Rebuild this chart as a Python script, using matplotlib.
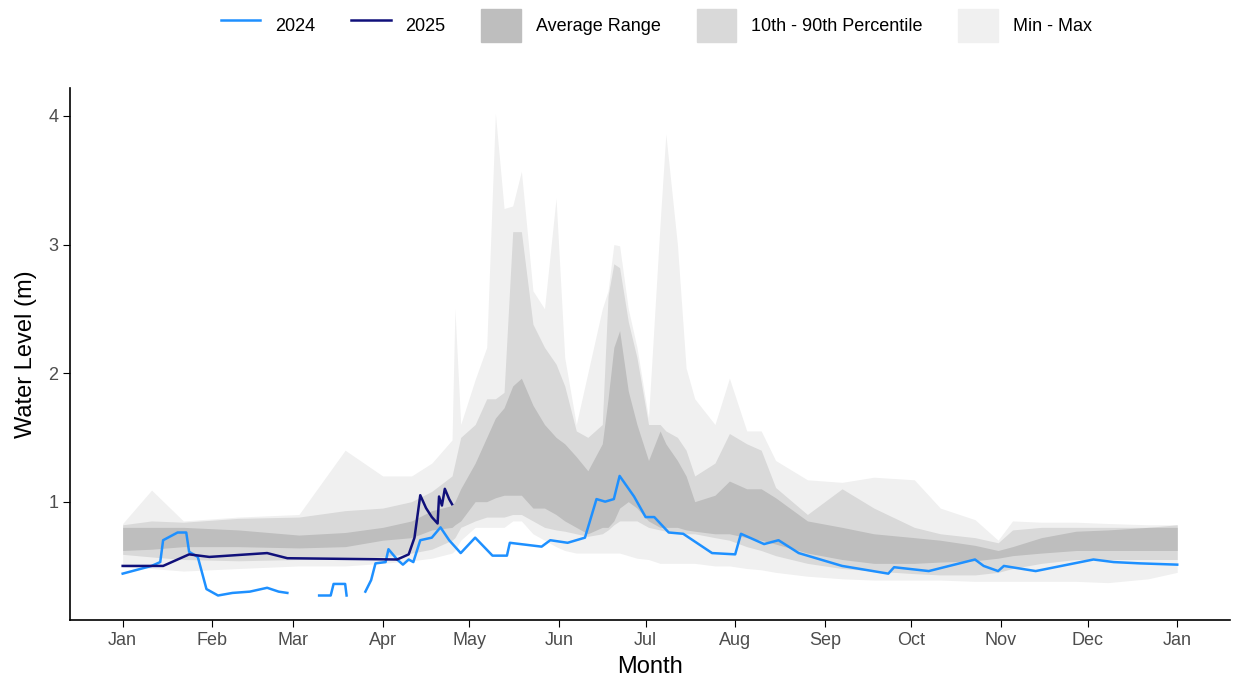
import numpy as np
import matplotlib
matplotlib.use("Agg")
import matplotlib.pyplot as plt
from matplotlib.lines import Line2D
from matplotlib.patches import Patch

plt.rcParams['font.family'] = ['Liberation Sans', 'DejaVu Sans']

# day-of-year grid for the historical bands
band_days = [0, 10, 21, 40, 61, 77, 90, 100, 107, 114, 115, 117, 122, 126, 129, 132, 135, 138,
             142, 146, 150, 153, 157, 161, 166, 168, 170, 172, 175, 178, 182, 186, 188, 192,
             195, 198, 205, 210, 216, 221, 226, 237, 249, 260, 274, 283, 295, 303, 308, 318,
             330, 341, 355, 365]
band_min = [0.49, 0.48, 0.46, 0.48, 0.5, 0.5, 0.52, 0.54, 0.56, 0.6, 0.62, 0.7, 0.8, 0.8, 0.8,
            0.8, 0.85, 0.85, 0.75, 0.7, 0.65, 0.62, 0.6, 0.6, 0.6, 0.6, 0.6, 0.6, 0.58, 0.56,
            0.55, 0.52, 0.52, 0.52, 0.52, 0.52, 0.5, 0.5, 0.48, 0.47, 0.45, 0.42, 0.4, 0.39,
            0.39, 0.39, 0.38, 0.38, 0.38, 0.38, 0.38, 0.37, 0.4, 0.45]
band_p10 = [0.59, 0.57, 0.55, 0.54, 0.55, 0.55, 0.57, 0.6, 0.63, 0.7, 0.72, 0.8, 0.85, 0.88,
            0.88, 0.88, 0.9, 0.9, 0.85, 0.8, 0.78, 0.77, 0.75, 0.73, 0.75, 0.78, 0.82, 0.85,
            0.85, 0.85, 0.8, 0.78, 0.77, 0.76, 0.75, 0.75, 0.72, 0.7, 0.65, 0.62, 0.58, 0.52,
            0.48, 0.46, 0.44, 0.43, 0.43, 0.45, 0.48, 0.52, 0.55, 0.55, 0.55, 0.55]
avg_lo = [0.62, 0.63, 0.65, 0.65, 0.64, 0.65, 0.7, 0.72, 0.78, 0.8, 0.82, 0.85, 1.0, 1.0, 1.03,
          1.05, 1.05, 1.05, 0.95, 0.95, 0.9, 0.85, 0.8, 0.75, 0.8, 0.8, 0.85, 0.95, 1.0, 0.95,
          0.85, 0.8, 0.8, 0.8, 0.78, 0.77, 0.75, 0.75, 0.72, 0.7, 0.67, 0.6, 0.55, 0.52, 0.52,
          0.53, 0.54, 0.56, 0.58, 0.6, 0.62, 0.62, 0.62, 0.62]
avg_hi = [0.8, 0.8, 0.8, 0.78, 0.74, 0.76, 0.8, 0.85, 0.93, 0.97, 1.0, 1.1, 1.3, 1.5, 1.65,
          1.73, 1.9, 1.96, 1.75, 1.6, 1.5, 1.45, 1.35, 1.24, 1.45, 1.8, 2.2, 2.33, 1.86, 1.6,
          1.32, 1.55, 1.45, 1.32, 1.2, 1.0, 1.05, 1.16, 1.1, 1.1, 1.03, 0.85, 0.8, 0.75, 0.72,
          0.7, 0.66, 0.62, 0.65, 0.72, 0.77, 0.78, 0.8, 0.8]
band_p90 = [0.82, 0.85, 0.84, 0.87, 0.88, 0.93, 0.95, 1.0, 1.08, 1.2, 1.3, 1.5, 1.6, 1.8, 1.8,
            1.85, 3.1, 3.1, 2.38, 2.2, 2.07, 1.9, 1.55, 1.5, 1.6, 2.6, 2.85, 2.82, 2.4, 2.12,
            1.6, 1.6, 1.55, 1.5, 1.4, 1.2, 1.3, 1.53, 1.45, 1.4, 1.11, 0.9, 1.1, 0.95, 0.8,
            0.75, 0.72, 0.68, 0.78, 0.8, 0.8, 0.8, 0.8, 0.82]
band_max = [0.83, 1.09, 0.85, 0.88, 0.9, 1.4, 1.2, 1.2, 1.3, 1.48, 2.5, 1.6, 1.95, 2.2, 4.02,
            3.28, 3.3, 3.57, 2.64, 2.5, 3.36, 2.12, 1.6, 2.0, 2.5, 2.64, 3.0, 2.99, 2.5, 2.2,
            1.65, 3.16, 3.86, 3.0, 2.04, 1.8, 1.6, 1.96, 1.55, 1.55, 1.32, 1.17, 1.15, 1.19,
            1.17, 0.95, 0.86, 0.7, 0.85, 0.84, 0.84, 0.83, 0.82, 0.82]

nan = np.nan
days_2024 = [0, 5, 10, 13, 14, 19, 22, 23, 26, 29, 33, 38, 44, 50, 54, 57, 58,
             68, 72, 73, 77, 77.5, 78,
             84, 86, 87.5, 91, 92, 95, 97, 99, 100.6, 103, 107, 110, 113, 117, 122, 128, 133,
             134, 145, 148, 154, 160, 164, 167, 170, 172, 177, 181, 184, 189, 194, 204, 212,
             214, 222, 227, 234, 240, 249, 265, 267, 279, 295, 298, 303, 305, 316, 336, 343,
             352, 365]
level_2024 = [0.44, 0.47, 0.5, 0.53, 0.7, 0.76, 0.76, 0.61, 0.57, 0.32, 0.27, 0.29, 0.3, 0.33,
              0.3, 0.29, nan,
              0.27, 0.27, 0.36, 0.36, 0.27, nan,
              0.3, 0.39, 0.52, 0.53, 0.63, 0.55, 0.51, 0.55, 0.53, 0.7, 0.72, 0.8, 0.7, 0.6,
              0.72, 0.58, 0.58, 0.68, 0.65, 0.7, 0.68, 0.72, 1.02, 1.0, 1.02, 1.2, 1.04, 0.88,
              0.88, 0.76, 0.75, 0.6, 0.59, 0.75, 0.67, 0.7, 0.6, 0.56, 0.5, 0.44, 0.49, 0.46,
              0.55, 0.5, 0.46, 0.5, 0.46, 0.55, 0.53, 0.52, 0.51]
days_2025 = [0, 14, 23, 30, 50, 57, 95, 99, 101, 103, 105, 107, 109, 109.5, 110.5, 111.5, 113,
             114]
level_2025 = [0.5, 0.5, 0.59, 0.57, 0.6, 0.56, 0.55, 0.59, 0.72, 1.05, 0.95, 0.88, 0.83, 1.04,
              0.97, 1.1, 1.02, 0.98]

month_days = [0, 31, 59, 90, 120, 151, 181, 212, 243, 273, 304, 334, 365]
month_labels = ['Jan', 'Feb', 'Mar', 'Apr', 'May', 'Jun', 'Jul', 'Aug', 'Sep', 'Oct',
                'Nov', 'Dec', 'Jan']

c_minmax, c_pct, c_avg = '#f0f0f0', '#d9d9d9', '#bebebe'
c24, c25 = '#1E90FF', '#10107a'

fig = plt.figure(figsize=(12.38, 6.85), dpi=100)
ax = fig.add_axes([0.0565, 0.095, 0.937, 0.777])

ax.fill_between(band_days, band_min, band_max, color=c_minmax, lw=0)
ax.fill_between(band_days, band_p10, band_p90, color=c_pct, lw=0)
ax.fill_between(band_days, avg_lo, avg_hi, color=c_avg, lw=0)
ax.plot(days_2024, level_2024, color=c24, lw=1.8)
ax.plot(days_2025, level_2025, color=c25, lw=1.8)

ax.set_xlim(-18.25, 383.25)
ax.set_ylim(0.08, 4.22)
ax.set_xticks(month_days)
ax.set_xticklabels(month_labels)
ax.set_yticks([1, 2, 3, 4])
ax.tick_params(labelsize=13, colors='#4d4d4d', length=5)
ax.tick_params(color='black')
for s in ['top', 'right']:
    ax.spines[s].set_visible(False)
for s in ['left', 'bottom']:
    ax.spines[s].set_linewidth(1.2)
ax.set_xlabel('Month', fontsize=17, labelpad=5)
ax.set_ylabel('Water Level (m)', fontsize=17, labelpad=8)

handles = [Line2D([], [], color=c24, lw=1.8), Line2D([], [], color=c25, lw=1.8),
           Patch(color=c_avg), Patch(color=c_pct), Patch(color=c_minmax)]
labels = ['2024', '2025', 'Average Range', '10th - 90th Percentile', 'Min - Max']
fig.legend(handles, labels, loc='upper center', bbox_to_anchor=(0.53, 1.01), ncol=5,
           frameon=False, fontsize=13, handlelength=2.2, handleheight=2.4,
           columnspacing=2.0)

fig.savefig('out.png', dpi=100)
